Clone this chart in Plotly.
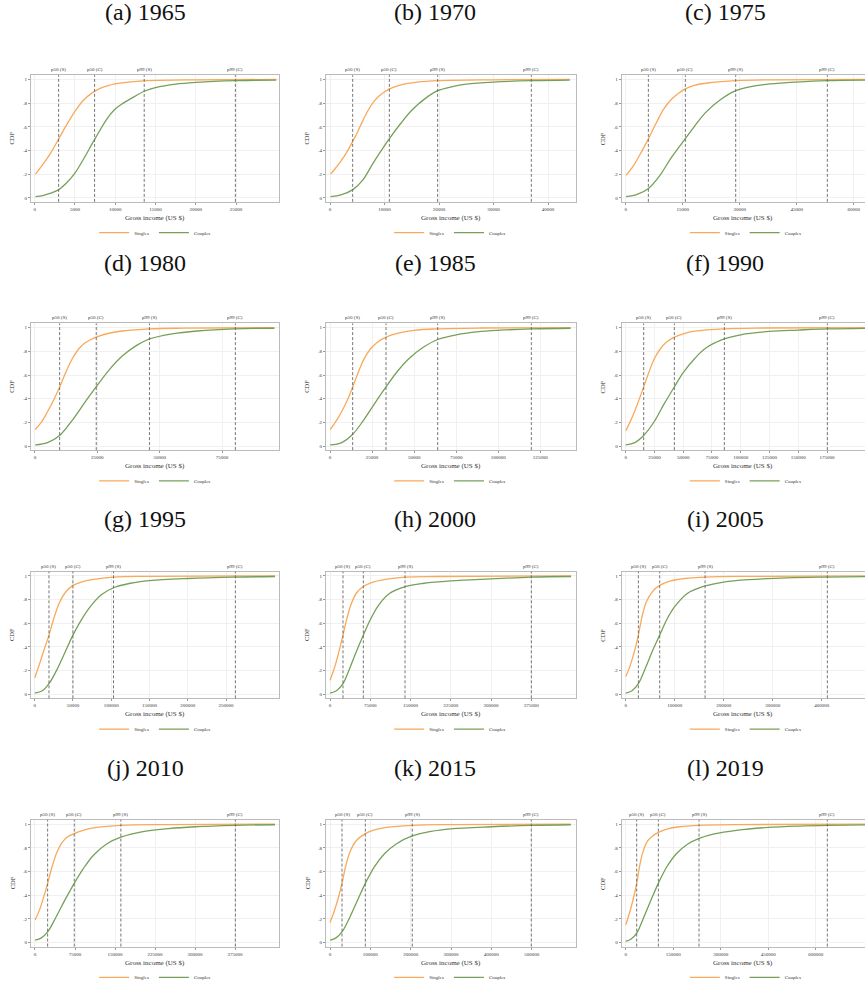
import plotly.graph_objects as go

years = [1965, 1970, 1975, 1980, 1985, 1990, 1995, 2000, 2005, 2010, 2015, 2019]
letters = ["a", "b", "c", "d", "e", "f", "g", "h", "i", "j", "k", "l"]

singles_income = [
    [100, 1000, 2000, 3000, 4000, 5000, 6000, 7000, 8000, 9000, 10000, 12000, 14000, 20000, 30000],
    [100, 1000, 2000, 3000, 4200, 5000, 6000, 7000, 8000, 9000, 10900, 13000, 16000, 20000, 30000, 44000],
    [100, 2000, 4000, 6000, 8000, 10000, 12000, 14000, 15700, 18000, 22000, 29000, 40000, 64000],
    [100, 2500, 5000, 7500, 9900, 12500, 15000, 17500, 20000, 24500, 30000, 35000, 46000, 60000, 96000],
    [100, 4000, 8000, 11000, 13500, 17000, 20000, 24000, 28000, 33300, 40000, 50000, 64000, 90000, 143000],
    [100, 5000, 10000, 15600, 20000, 25000, 30000, 35000, 42300, 50000, 60000, 85700, 120000, 210000],
    [100, 6000, 12000, 18700, 25000, 32000, 40000, 50000, 62000, 75000, 103000, 150000, 314000],
    [100, 8000, 16000, 24200, 32000, 40000, 50000, 62000, 80000, 100000, 140000, 200000, 449000],
    [100, 8000, 17000, 25800, 33000, 42000, 55000, 69400, 90000, 120000, 162000, 250000, 500000],
    [100, 8000, 16000, 23700, 32000, 40000, 50000, 60000, 73600, 90000, 115000, 161000, 250000, 450000],
    [100, 10000, 20000, 29700, 40000, 50000, 65000, 87600, 110000, 140000, 204000, 300000, 597000],
    [100, 12000, 24000, 34700, 45000, 55000, 70000, 85000, 103000, 130000, 170000, 232000, 350000, 770000],
]
singles_cdf = [
    [0.20, 0.28, 0.38, 0.50, 0.62, 0.73, 0.82, 0.88, 0.92, 0.945, 0.962, 0.98, 0.99, 0.997, 1.0],
    [0.20, 0.25, 0.31, 0.38, 0.48, 0.55, 0.65, 0.74, 0.81, 0.86, 0.92, 0.955, 0.978, 0.99, 0.997, 1.0],
    [0.19, 0.27, 0.38, 0.50, 0.63, 0.75, 0.83, 0.885, 0.92, 0.95, 0.972, 0.99, 0.997, 1.0],
    [0.14, 0.20, 0.29, 0.39, 0.50, 0.63, 0.74, 0.82, 0.87, 0.92, 0.955, 0.972, 0.99, 0.996, 1.0],
    [0.14, 0.22, 0.32, 0.41, 0.50, 0.63, 0.73, 0.82, 0.875, 0.92, 0.952, 0.978, 0.99, 0.997, 1.0],
    [0.13, 0.23, 0.35, 0.50, 0.62, 0.74, 0.82, 0.875, 0.92, 0.948, 0.97, 0.99, 0.997, 1.0],
    [0.14, 0.25, 0.37, 0.50, 0.64, 0.77, 0.86, 0.92, 0.95, 0.968, 0.99, 0.996, 1.0],
    [0.12, 0.22, 0.35, 0.50, 0.65, 0.77, 0.86, 0.91, 0.948, 0.968, 0.99, 0.995, 1.0],
    [0.15, 0.23, 0.35, 0.50, 0.65, 0.78, 0.87, 0.92, 0.955, 0.978, 0.99, 0.996, 1.0],
    [0.19, 0.27, 0.38, 0.50, 0.64, 0.75, 0.84, 0.89, 0.92, 0.948, 0.972, 0.99, 0.996, 1.0],
    [0.17, 0.26, 0.37, 0.50, 0.66, 0.77, 0.86, 0.92, 0.952, 0.973, 0.99, 0.996, 1.0],
    [0.15, 0.25, 0.37, 0.50, 0.66, 0.77, 0.86, 0.90, 0.93, 0.958, 0.978, 0.99, 0.996, 1.0],
]
couples_income = [
    [100, 1000, 2000, 3000, 4000, 5000, 6000, 7500, 9000, 10000, 11000, 12500, 13600, 15000, 17500, 20000, 25000, 30000],
    [100, 2000, 4200, 6000, 8000, 10900, 13000, 15000, 17500, 19750, 22500, 25000, 30000, 37000, 44000],
    [100, 3000, 6000, 9000, 12000, 15700, 18000, 21000, 25000, 29000, 33000, 38000, 45000, 53000, 64000],
    [100, 5000, 9900, 15000, 20000, 24500, 30000, 35000, 40000, 46000, 55000, 65000, 80000, 96000],
    [100, 7000, 13500, 20000, 27000, 33300, 40000, 47000, 55000, 64000, 75000, 90000, 105000, 120000, 143000],
    [100, 8000, 15600, 25000, 33000, 42300, 50000, 60000, 70000, 85700, 100000, 125000, 150000, 175000, 210000],
    [100, 10000, 18700, 30000, 40000, 50000, 62000, 75000, 88000, 103000, 125000, 150000, 200000, 262000, 314000],
    [100, 12000, 24200, 35000, 48000, 62000, 75000, 90000, 110000, 140000, 175000, 225000, 300000, 375000, 449000],
    [100, 13000, 25800, 40000, 55000, 69400, 85000, 100000, 125000, 162000, 200000, 250000, 330000, 412000, 500000],
    [100, 12000, 23700, 40000, 55000, 73600, 90000, 110000, 135000, 161000, 200000, 250000, 300000, 375000, 450000],
    [100, 15000, 29700, 50000, 70000, 87600, 110000, 135000, 165000, 204000, 250000, 300000, 400000, 499000, 597000],
    [100, 17000, 34700, 55000, 80000, 103000, 130000, 160000, 195000, 232000, 280000, 350000, 450000, 550000, 637000, 770000],
]
couples_cdf = [
    [0.01, 0.02, 0.04, 0.07, 0.13, 0.21, 0.32, 0.50, 0.67, 0.75, 0.80, 0.86, 0.90, 0.93, 0.96, 0.975, 0.99, 0.995],
    [0.01, 0.025, 0.07, 0.15, 0.30, 0.50, 0.63, 0.74, 0.84, 0.905, 0.94, 0.96, 0.978, 0.99, 0.995],
    [0.01, 0.03, 0.08, 0.19, 0.34, 0.50, 0.60, 0.72, 0.83, 0.905, 0.94, 0.962, 0.978, 0.99, 0.995],
    [0.01, 0.03, 0.09, 0.22, 0.37, 0.50, 0.65, 0.76, 0.84, 0.905, 0.948, 0.972, 0.99, 0.995],
    [0.01, 0.03, 0.10, 0.22, 0.37, 0.50, 0.63, 0.74, 0.83, 0.90, 0.94, 0.968, 0.982, 0.99, 0.995],
    [0.01, 0.03, 0.09, 0.21, 0.35, 0.50, 0.62, 0.74, 0.83, 0.905, 0.94, 0.968, 0.98, 0.99, 0.995],
    [0.01, 0.03, 0.09, 0.22, 0.36, 0.50, 0.64, 0.76, 0.845, 0.90, 0.938, 0.96, 0.978, 0.99, 0.995],
    [0.01, 0.03, 0.09, 0.20, 0.35, 0.50, 0.63, 0.75, 0.85, 0.91, 0.938, 0.958, 0.975, 0.99, 0.995],
    [0.01, 0.03, 0.09, 0.22, 0.37, 0.50, 0.64, 0.74, 0.85, 0.915, 0.948, 0.968, 0.983, 0.99, 0.995],
    [0.02, 0.04, 0.09, 0.22, 0.35, 0.50, 0.62, 0.74, 0.835, 0.89, 0.935, 0.962, 0.978, 0.99, 0.995],
    [0.02, 0.04, 0.09, 0.22, 0.37, 0.50, 0.64, 0.75, 0.835, 0.90, 0.938, 0.96, 0.978, 0.99, 0.995],
    [0.01, 0.03, 0.08, 0.20, 0.36, 0.50, 0.64, 0.75, 0.83, 0.88, 0.918, 0.948, 0.972, 0.984, 0.99, 0.995],
]
p50_singles = [2975, 4160, 5965, 9880, 13470, 15640, 18700, 24200, 25850, 23700, 29750, 34700]
p50_couples = [7440, 10890, 15700, 24560, 33280, 42290, 50000, 62100, 69400, 73600, 87600, 103200]
p99_singles = [13600, 19750, 28950, 45900, 64000, 85750, 103000, 139700, 162000, 161000, 204000, 231600]
p99_couples = [24920, 36940, 53070, 80350, 119650, 175260, 262200, 375000, 411600, 375600, 499000, 636800]
x_tickvals = [
    [0, 5000, 10000, 15000, 20000, 25000],
    [0, 10000, 20000, 30000, 40000],
    [0, 15000, 30000, 45000, 60000],
    [0, 25000, 50000, 75000],
    [0, 25000, 50000, 75000, 100000, 125000],
    [0, 25000, 50000, 75000, 100000, 125000, 150000, 175000],
    [0, 50000, 100000, 150000, 200000, 250000],
    [0, 75000, 150000, 225000, 300000, 375000],
    [0, 100000, 200000, 300000, 400000],
    [0, 75000, 150000, 225000, 300000, 375000],
    [0, 100000, 200000, 300000, 400000, 500000],
    [0, 150000, 300000, 450000, 600000],
]
y_tickvals = [0, 0.2, 0.4, 0.6, 0.8, 1.0]
y_ticktext = ["0", ".2", ".4", ".6", ".8", "1"]

# ---- layout / style (not data) ----
W, H = 865, 992
x_ranges = [[-455, 30372], [-734, 45138], [-1053, 62982], [-1602, 97970],
            [-2377, 146200], [-3476, 208000], [-4783, 319565], [-7450, 458200],
            [-8163, 488400], [-7488, 458000], [-9917, 609900], [-12632, 755800]]
col_left = [31.0, 326.0, 621.7]
col_right = [279.3, 576.0, 865.0]
row_top = [75.7 + 250 * r for r in range(4)]
row_bot = [203.3 + 250 * r for r in range(4)]
title_y = [12, 265, 523, 773]
title_x = [145, 435, 725]
SINGLES = "#F8A95A"
COUPLES = "#76A05A"
SERIF = "Liberation Serif"
small = dict(family=SERIF, size=5, color="#333333")

fig = go.Figure()
annotations = []
shapes = []
for i in range(12):
    r, c = divmod(i, 3)
    sfx = "" if i == 0 else str(i + 1)
    xr, yr = "x" + sfx, "y" + sfx
    leg = "legend" + sfx
    fig.add_trace(go.Scatter(x=singles_income[i], y=singles_cdf[i], mode="lines", name="Singles",
                             line=dict(color=SINGLES, width=1.3, shape="spline", smoothing=1.0),
                             xaxis=xr, yaxis=yr, legend=leg, cliponaxis=True))
    fig.add_trace(go.Scatter(x=couples_income[i], y=couples_cdf[i], mode="lines", name="Couples",
                             line=dict(color=COUPLES, width=1.3, shape="spline", smoothing=1.0),
                             xaxis=xr, yaxis=yr, legend=leg, cliponaxis=True))
    fig.layout["xaxis" + sfx] = dict(
        domain=[col_left[c] / W, col_right[c] / W], anchor=yr, range=x_ranges[i],
        tickvals=x_tickvals[i], ticktext=[str(v) for v in x_tickvals[i]],
        tickfont=small, ticks="outside", ticklen=2, tickcolor="#999999",
        showline=True, mirror=True, linecolor="#BBBBBB", linewidth=1,
        showgrid=True, gridcolor="#F0F0F0", gridwidth=0.6, zeroline=False)
    fig.layout["yaxis" + sfx] = dict(
        domain=[1 - row_bot[r] / H, 1 - row_top[r] / H], anchor=xr, range=[-0.0335, 1.036],
        tickvals=y_tickvals, ticktext=y_ticktext, tickfont=small,
        ticks="outside", ticklen=2, tickcolor="#999999",
        showline=True, mirror=True, linecolor="#BBBBBB", linewidth=1,
        showgrid=True, gridcolor="#F0F0F0", gridwidth=0.6, zeroline=False)
    fig.layout[leg] = dict(
        orientation="h", x=(col_left[c] + (279.3 - 31.0) / 2) / W, xanchor="center",
        y=1 - (row_bot[r] + 31) / H, yanchor="middle", font=small,
        bgcolor="rgba(0,0,0,0)", itemwidth=30, tracegroupgap=0)
    for val, lab in [(p50_singles[i], "p50 (S)"), (p50_couples[i], "p50 (C)"),
                     (p99_singles[i], "p99 (S)"), (p99_couples[i], "p99 (C)")]:
        shapes.append(dict(type="line", xref=xr, yref=yr + " domain", x0=val, x1=val, y0=0, y1=1,
                           line=dict(color="#666666", width=0.9, dash="3px,2px")))
        annotations.append(dict(text=lab, x=val, xref=xr, y=1, yref=yr + " domain",
                                yanchor="bottom", yshift=1, showarrow=False, font=small))
    annotations.append(dict(text="Gross income (US $)", x=0.5, xref=xr + " domain", y=0,
                            yref=yr + " domain", yanchor="middle", yshift=-16, showarrow=False,
                            font=dict(family=SERIF, size=7, color="#333333")))
    annotations.append(dict(text="CDF", x=0, xref=xr + " domain", y=0.5, yref=yr + " domain",
                            xanchor="center", xshift=-19, textangle=-90, showarrow=False,
                            font=dict(family=SERIF, size=6.5, color="#333333")))
    annotations.append(dict(text="(%s) %d" % (letters[i], years[i]), x=title_x[c] / W, xref="paper",
                            y=1 - title_y[r] / H, yref="paper", xanchor="center", yanchor="middle",
                            showarrow=False, font=dict(family=SERIF, size=24, color="#111111")))

fig.update_layout(width=W, height=H, margin=dict(l=0, r=0, t=0, b=0),
                  paper_bgcolor="white", plot_bgcolor="white",
                  annotations=annotations, shapes=shapes, showlegend=True)
fig.write_html("out.html", config={"displayModeBar": False},
               post_script="document.body.style.margin='0';document.body.style.overflow='hidden';")
